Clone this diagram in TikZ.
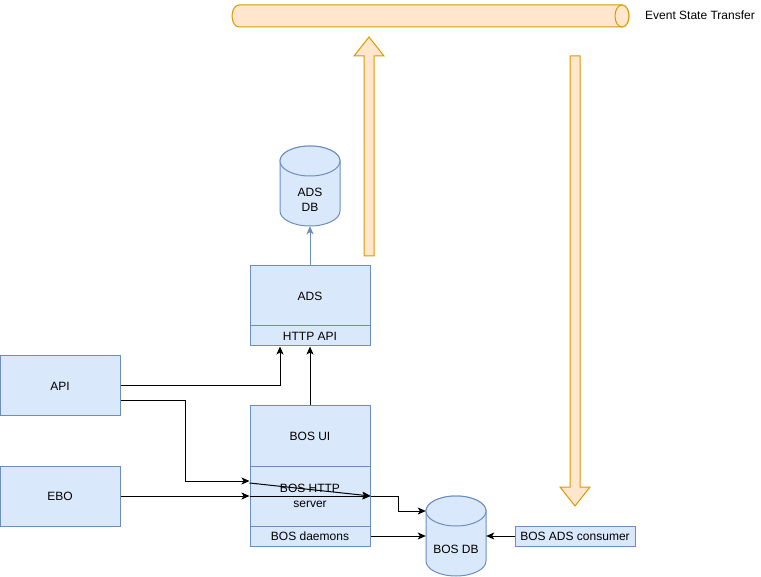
\documentclass[tikz,border=0pt]{standalone}
\usepackage{fontspec}
\setmainfont{Liberation Sans}
\usetikzlibrary{arrows.meta,calc}
\definecolor{bfill}{HTML}{DAE8FC}
\definecolor{bstroke}{HTML}{6C8EBF}
\definecolor{ofill}{HTML}{FFE6CC}
\definecolor{ostroke}{HTML}{D79B00}
\tikzset{
  box/.style={draw=bstroke,fill=bfill,line width=1pt,minimum width=120pt,inner sep=0pt,font=\fontsize{12}{14}\selectfont,align=center},
  bigbox/.style={box,minimum height=60pt},
  smallbox/.style={box,minimum height=20pt},
  anchorbox/.style={inner sep=0pt,minimum width=60pt,minimum height=80pt},
  cyl/.style={draw=bstroke,fill=bfill,line width=1pt},
  orange/.style={draw=ostroke,fill=ofill,line width=1pt,line join=miter},
  conn/.style={draw=black,line width=1pt,-{Stealth[length=8pt,width=7pt,inset=2pt]}},
  plain/.style={draw=black,line width=1pt},
  bconn/.style={draw=bstroke,line width=1pt,-{Stealth[length=8pt,width=7pt,inset=2pt]}},
  lbl/.style={font=\fontsize{12}{14}\selectfont,align=center,inner sep=0pt}
}
\begin{document}
\begin{tikzpicture}[x=1pt,y=-1pt]
\useasboundingbox (0,0) rectangle (761,577);
% tube
\path[orange] (239,5) -- (622,5) arc[start angle=90,end angle=-90,x radius=7pt,y radius=11pt] -- (239,27) arc[start angle=270,end angle=90,x radius=7pt,y radius=11pt] -- cycle;
\draw[orange] (622,16) ellipse[x radius=7pt,y radius=11pt];
\node[lbl,anchor=west] (est) at (645,15) {Event State Transfer};
% block arrows
\path[orange] (364,256) -- (364,56) -- (354,56) -- (369,37) -- (384,56) -- (374,56) -- (374,256) -- cycle;
\path[orange] (570,56) -- (570,487) -- (560,487) -- (575,506) -- (590,487) -- (580,487) -- (580,56) -- cycle;
% ADS DB cylinder
\path[cyl] (280,161) -- (280,211) arc[start angle=180,end angle=360,x radius=30pt,y radius=15pt] -- (340,161) arc[start angle=0,end angle=180,x radius=30pt,y radius=15pt] -- cycle;
\draw[cyl] (310,161) ellipse[x radius=30pt,y radius=15pt];
\node[anchorbox] (adsdb) at (310,186) {};
\node[lbl] at (310,200) {ADS\\[1pt]DB};
% BOS DB cylinder
\path[cyl] (426,511) -- (426,561) arc[start angle=180,end angle=360,x radius=30pt,y radius=15pt] -- (486,511) arc[start angle=0,end angle=180,x radius=30pt,y radius=15pt] -- cycle;
\draw[cyl] (456,511) ellipse[x radius=30pt,y radius=15pt];
\node[anchorbox] (bosdb) at (456,536) {};
\node[lbl] at (456,549) {BOS DB};
% boxes
\node[bigbox] (ads) at (310,296) {ADS};
\node[smallbox] (httpapi) at (310,336) {HTTP API};
\node[bigbox] (api) at (60,386) {API};
\node[bigbox] (ebo) at (60,496) {EBO};
\node[bigbox] (bosui) at (310,436) {BOS UI};
\node[bigbox] (boshttp) at (310,496) {BOS HTTP\\[1pt]server};
\node[smallbox] (bosd) at (310,536) {BOS daemons};
\node[smallbox] (consumer) at (575,536) {BOS ADS consumer};
% connectors
\draw[bconn] (ads.north) -- (adsdb.south);
\draw[conn] (api.east) -| ($(httpapi.south)+(-30,0)$);
\draw[conn] (bosui.north) -- (httpapi.south);
\draw[conn] ($(api.east)+(0,15)$) -- (185,401) |- ($(boshttp.west)+(0,-15)$);
\draw[conn] (ebo.east) -- (boshttp.west);
\draw[conn] ($(boshttp.west)+(0,-13)$) -- (boshttp.east);
\draw[conn] (boshttp.west) -- (boshttp.east);
\draw[conn] (boshttp.east) -- (398,496) |- ($(bosdb.west)+(0,-25)$);
\draw[conn] (bosd.east) -- (bosd.east -| bosdb.west);
\draw[conn] (consumer.west) -- (consumer.west -| bosdb.east);
\end{tikzpicture}
\end{document}
